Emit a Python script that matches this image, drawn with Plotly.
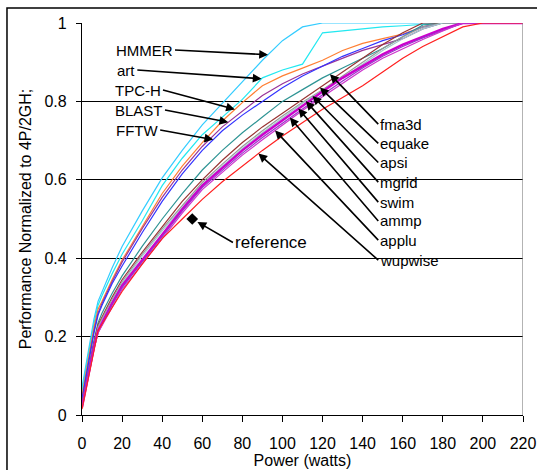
import numpy as np
import plotly.graph_objects as go

# Power (watts) sample points shared by all series
power = [0, 2, 4, 6, 8, 10, 15, 20, 30, 40, 50, 60, 70, 80, 90, 100,
         110, 120, 130, 140, 150, 160, 170, 180, 190, 200, 210, 220]

hmmer = [0.07, 0.13, 0.19, 0.245, 0.29, 0.315, 0.375, 0.43, 0.52, 0.605, 0.675, 0.74, 0.795, 0.85, 0.905, 0.955,
         0.99, 1, 1, 1, 1, 1, 1, 1, 1, 1, 1, 1]
art = [0.06, 0.12, 0.18, 0.235, 0.28, 0.305, 0.36, 0.41, 0.495, 0.585, 0.655, 0.715, 0.76, 0.805, 0.86, 0.88,
       0.895, 0.975, 0.98, 0.985, 0.99, 0.993, 0.997, 1, 1, 1, 1, 1]
tpch = [0.05, 0.11, 0.17, 0.225, 0.27, 0.29, 0.345, 0.395, 0.48, 0.565, 0.635, 0.695, 0.75, 0.797, 0.84, 0.865,
        0.885, 0.905, 0.93, 0.948, 0.96, 0.972, 0.99, 1, 1, 1, 1, 1]
blast = [0.04, 0.1, 0.16, 0.215, 0.26, 0.285, 0.34, 0.39, 0.475, 0.555, 0.625, 0.685, 0.735, 0.775, 0.815, 0.845,
         0.87, 0.89, 0.91, 0.93, 0.945, 0.96, 0.985, 1, 1, 1, 1, 1]
fftw = [0.04, 0.1, 0.155, 0.21, 0.255, 0.28, 0.335, 0.38, 0.465, 0.545, 0.615, 0.675, 0.725, 0.765, 0.8, 0.835,
        0.865, 0.89, 0.915, 0.935, 0.955, 0.97, 0.99, 1, 1, 1, 1, 1]
fma3d = [0.03, 0.085, 0.14, 0.19, 0.235, 0.26, 0.31, 0.355, 0.43, 0.5, 0.565, 0.625, 0.675, 0.72, 0.76, 0.8,
         0.83, 0.86, 0.885, 0.91, 0.935, 0.965, 0.995, 1, 1, 1, 1, 1]
equake = [0.025, 0.08, 0.135, 0.185, 0.23, 0.25, 0.3, 0.345, 0.415, 0.48, 0.545, 0.6, 0.65, 0.695, 0.735, 0.77,
          0.805, 0.84, 0.875, 0.91, 0.945, 0.975, 1, 1, 1, 1, 1, 1]
apsi = [0.025, 0.08, 0.13, 0.18, 0.225, 0.245, 0.295, 0.34, 0.41, 0.475, 0.535, 0.593, 0.64, 0.685, 0.725, 0.763,
        0.798, 0.83, 0.865, 0.9, 0.935, 0.965, 0.99, 1, 1, 1, 1, 1]
mgrid = [0.02, 0.075, 0.125, 0.175, 0.22, 0.24, 0.29, 0.335, 0.405, 0.47, 0.53, 0.588, 0.635, 0.68, 0.72, 0.758,
         0.795, 0.828, 0.86, 0.895, 0.93, 0.96, 0.985, 1, 1, 1, 1, 1]
swim = [0.02, 0.075, 0.125, 0.175, 0.215, 0.235, 0.285, 0.33, 0.395, 0.46, 0.525, 0.585, 0.63, 0.675, 0.715, 0.752,
        0.79, 0.825, 0.86, 0.89, 0.92, 0.945, 0.965, 0.985, 1, 1, 1, 1]
ammp = [0.02, 0.07, 0.12, 0.17, 0.21, 0.23, 0.28, 0.325, 0.39, 0.455, 0.52, 0.58, 0.625, 0.668, 0.708, 0.745,
        0.782, 0.817, 0.852, 0.885, 0.915, 0.94, 0.962, 0.982, 1, 1, 1, 1]
applu = [0.018, 0.07, 0.12, 0.168, 0.21, 0.228, 0.275, 0.32, 0.385, 0.45, 0.515, 0.575, 0.62, 0.663, 0.702, 0.74,
         0.777, 0.812, 0.847, 0.88, 0.91, 0.935, 0.958, 0.98, 1, 1, 1, 1]
wupwise = [0.015, 0.065, 0.115, 0.17, 0.215, 0.232, 0.275, 0.315, 0.385, 0.45, 0.5, 0.55, 0.595, 0.635, 0.675, 0.712,
           0.745, 0.78, 0.81, 0.84, 0.875, 0.91, 0.94, 0.965, 0.99, 1, 1, 1]

reference_power = [55]
reference_perf = [0.5]

x_ticks = [0, 20, 40, 60, 80, 100, 120, 140, 160, 180, 200, 220]
y_ticks = [0, 0.2, 0.4, 0.6, 0.8, 1]

series = [
    ("HMMER", hmmer, "#33CCFF", 1.2),
    ("art", art, "#22E8F0", 1.2),
    ("TPC-H", tpch, "#FF7F33", 1.2),
    ("BLAST", blast, "#993399", 1.2),
    ("FFTW", fftw, "#3333FF", 1.2),
    ("fma3d", fma3d, "#2E9494", 1.2),
    ("equake", equake, "#993333", 1.2),
    ("apsi", apsi, "#999999", 1.2),
    ("mgrid", mgrid, "#A0CCCC", 1.2),
    ("swim", swim, "#CC00CC", 2.4),
    ("ammp", ammp, "#9933CC", 1.2),
    ("applu", applu, "#CC33CC", 1.2),
    ("wupwise", wupwise, "#FF2020", 1.2),
]

FONT = "Liberation Sans, Arial, sans-serif"

fig = go.Figure()
for name, vals, color, w in series:
    fig.add_trace(go.Scatter(x=power, y=vals, mode="lines", name=name,
                             line=dict(color=color, width=w), showlegend=False))

fig.add_trace(go.Scatter(x=reference_power, y=reference_perf, mode="markers", name="reference",
                         marker=dict(symbol="diamond", size=9, color="black"), showlegend=False))

data = {name: vals for name, vals, _, _ in series}

def on(name, w):
    return float(np.interp(w, power, data[name]))

annotations = []
# left group: label (tail at right end of text), arrow head on the curve
left_labels = [
    ("HMMER", 46.4, 0.931, 92.8),
    ("art", 27.6, 0.880, 89.6),
    ("TPC-H", 40.4, 0.829, 76.3),
    ("BLAST", 41.4, 0.778, 73.0),
    ("FFTW", 39.0, 0.727, 65.5),
]
for name, tx, ty, hx in left_labels:
    annotations.append(dict(x=hx, y=on(name, hx), ax=tx, ay=ty, xref="x", yref="y",
                            axref="x", ayref="y", text=name, showarrow=True,
                            arrowhead=2, arrowsize=1.1, arrowwidth=1.6, arrowcolor="black",
                            xanchor="right", yanchor="middle",
                            font=dict(family=FONT, size=15, color="black")))
right_labels = [
    ("fma3d", 0.742, 123.7),
    ("equake", 0.693, 118.7),
    ("apsi", 0.644, 115.0),
    ("mgrid", 0.594, 111.7),
    ("swim", 0.543, 107.9),
    ("ammp", 0.495, 103.7),
    ("applu", 0.446, 96.3),
    ("wupwise", 0.395, 88.0),
]
for name, ty, hx in right_labels:
    annotations.append(dict(x=hx, y=on(name, hx), ax=147.8, ay=ty, xref="x", yref="y",
                            axref="x", ayref="y", text=name, showarrow=True,
                            arrowhead=2, arrowsize=1.1, arrowwidth=1.6, arrowcolor="black",
                            xanchor="left", yanchor="middle",
                            font=dict(family=FONT, size=15, color="black")))
annotations.append(dict(x=reference_power[0], y=reference_perf[0], ax=75.3, ay=0.44,
                        xref="x", yref="y", axref="x", ayref="y", text="reference",
                        showarrow=True, arrowhead=2, arrowsize=1.1, arrowwidth=1.6,
                        arrowcolor="black", standoff=6, xanchor="left", yanchor="middle",
                        font=dict(family=FONT, size=17, color="black")))

fig.update_layout(
    width=537, height=470,
    margin=dict(l=82, r=14, t=23, b=55, autoexpand=False),
    paper_bgcolor="white", plot_bgcolor="white",
    font=dict(family=FONT, size=16, color="black"),
    annotations=annotations,
    shapes=[
        dict(type="line", xref="x", yref="y", x0=220, x1=220, y0=0, y1=1,
             line=dict(color="#808080", width=1.2)),
        dict(type="rect", xref="paper", yref="paper", x0=-0.1701, x1=1.04, y0=-0.2, y1=1.0383,
             line=dict(color="black", width=1.5), fillcolor="rgba(0,0,0,0)", layer="above"),
    ],
    xaxis=dict(range=[0, 220], tickvals=x_ticks, ticktext=[str(v) for v in x_ticks],
               showgrid=False, zeroline=False, showline=True, linecolor="black", linewidth=1.2,
               ticks="outside", ticklen=6, tickcolor="black", tickwidth=1.2,
               ticklabelstandoff=8, tickfont=dict(size=16),
               title=dict(text="Power (watts)", font=dict(size=16), standoff=2)),
    yaxis=dict(range=[0, 1], tickvals=y_ticks, ticktext=["0", "0.2", "0.4", "0.6", "0.8", "1"],
               showgrid=True, gridcolor="black", gridwidth=1, zeroline=False,
               showline=True, linecolor="black", linewidth=1.2,
               ticks="outside", ticklen=5, tickcolor="black", tickwidth=1.2,
               ticklabelstandoff=6, tickfont=dict(size=16),
               title=dict(text="Performance Normalized to 4P/2GH;", font=dict(size=16), standoff=8)),
)

fig.write_html("out.html", config={"displayModeBar": False},
               post_script="document.body.style.margin='0';document.body.style.overflow='hidden';")
